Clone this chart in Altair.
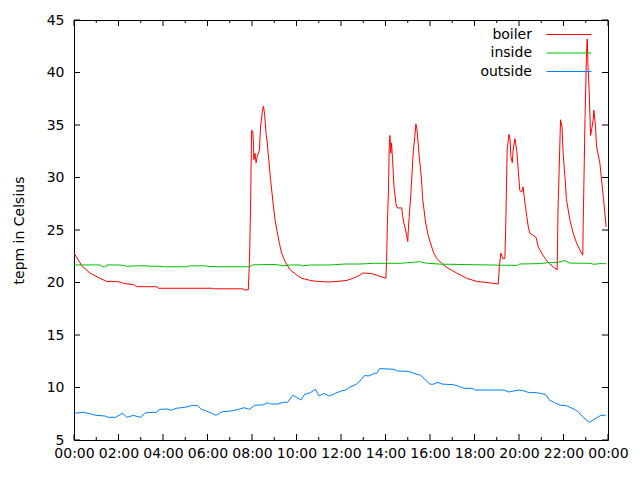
import altair as alt
import pandas as pd

# ---- data (hours since midnight, temperature in Celsius) ----
boiler_hours = [0.00, 0.35, 0.72, 1.17, 1.47, 1.92, 2.14, 2.29, 2.67, 2.83, 3.73, 3.78, 6.25, 6.29,
                7.60, 7.64, 7.84, 7.88, 7.94, 7.99, 8.03, 8.06, 8.09, 8.13, 8.18, 8.24, 8.33, 8.39,
                8.46, 8.51, 8.57, 8.63, 8.69, 8.78, 8.84, 8.90, 8.96, 9.03, 9.11, 9.23, 9.33, 9.48,
                9.71, 10.01, 10.23, 10.61, 10.91, 11.47, 11.82, 12.26, 12.54, 12.85, 12.99, 13.38,
                13.60, 14.02, 14.05, 14.08, 14.13, 14.17, 14.20, 14.23, 14.26, 14.31, 14.35, 14.38,
                14.43, 14.47, 14.53, 14.65, 14.73, 14.77, 14.83, 14.88, 14.95, 15.00, 15.02, 15.07,
                15.13, 15.19, 15.25, 15.31, 15.37, 15.42, 15.47, 15.52, 15.58, 15.63, 15.67, 15.73,
                15.79, 15.85, 15.92, 16.00, 16.15, 16.30, 16.53, 16.82, 17.20, 17.65, 18.10, 18.55,
                19.07, 19.11, 19.19, 19.26, 19.37, 19.42, 19.47, 19.55, 19.60, 19.64, 19.70, 19.74,
                19.82, 19.90, 19.97, 20.04, 20.12, 20.19, 20.27, 20.35, 20.42, 20.49, 20.64, 20.76,
                20.87, 21.02, 21.17, 21.36, 21.53, 21.72, 21.75, 21.87, 21.93, 21.99, 22.07, 22.14,
                22.29, 22.44, 22.59, 22.74, 22.86, 22.89, 22.97, 23.04, 23.07, 23.10, 23.15, 23.22,
                23.28, 23.33, 23.37, 23.43, 23.49, 23.64, 23.80, 23.91]
boiler_temp = [22.8, 21.6, 20.9, 20.4, 20.1, 20.1, 20.0, 19.9, 19.8, 19.6, 19.6, 19.45, 19.45, 19.4,
               19.4, 19.3, 19.3, 21.8, 26.9, 34.5, 34.4, 33.3, 31.7, 32.3, 31.4, 32.0, 32.6, 34.8,
               36.3, 36.8, 36.0, 34.2, 33.3, 31.0, 29.8, 28.5, 27.2, 26.0, 25.0, 23.7, 22.8, 22.0,
               21.2, 20.7, 20.4, 20.2, 20.1, 20.05, 20.1, 20.2, 20.4, 20.7, 20.9, 20.85,
               20.7, 20.4, 22.0, 25.5, 28.8, 32.9, 34.0, 32.3, 33.3, 31.8, 30.4, 29.1,
               28.2, 27.5, 27.1, 27.1, 27.1, 26.4, 25.6, 25.2, 24.5, 23.9, 24.7, 26.3,
               28.2, 30.1, 32.5, 33.9, 35.1, 34.5, 33.3, 32.0, 30.6, 29.3, 28.0, 26.9,
               26.0, 25.2, 24.5, 23.9, 22.9, 22.3, 21.8, 21.35, 20.9, 20.4, 20.1, 20.0,
               19.86, 21.5, 22.8, 22.3, 22.3, 26.6, 32.6, 34.1, 33.6, 32.0, 31.4, 32.6,
               33.7, 32.6, 30.7, 28.8, 28.6, 29.1, 27.6, 26.3, 25.3, 24.7, 24.5, 24.3,
               23.4, 22.8, 22.3, 21.8, 21.5, 21.2, 26.6, 35.5, 34.8, 32.3, 30.0, 27.9,
               26.0, 24.7, 23.8, 23.1, 22.6, 25.3, 35.5, 41.8, 43.2, 40.7, 38.5, 34.0,
               34.8, 35.5, 36.4, 35.0, 33.0, 31.4, 27.9, 25.3]

inside_hours = [0.00, 1.17, 1.30, 1.42, 1.48, 2.07, 2.38, 3.10, 3.42, 3.73, 4.09, 5.08, 5.21, 5.66,
                5.80, 6.11, 6.43, 7.91, 8.00, 8.36, 9.03, 9.39, 9.71, 10.16, 10.29, 10.61, 11.51,
                12.18, 12.85, 13.53, 14.65, 15.10, 15.55, 15.80, 16.45, 17.80, 19.15, 19.91, 20.04,
                20.94, 21.39, 21.71, 22.07, 22.29, 23.19, 23.37, 23.64, 23.91]
inside_temp = [21.67, 21.67, 21.49, 21.49, 21.67, 21.67, 21.55, 21.6, 21.55, 21.55, 21.5, 21.5, 21.6,
               21.58, 21.6, 21.52, 21.5, 21.5, 21.67, 21.7, 21.72, 21.6, 21.67, 21.67, 21.58, 21.67,
               21.67, 21.76, 21.76, 21.83, 21.83, 21.9, 21.98, 21.85, 21.75, 21.7, 21.65, 21.63,
               21.76, 21.8, 21.9, 21.92, 22.08, 21.85, 21.83, 21.73, 21.8, 21.79]

outside_hours = [0.01, 0.41, 0.82, 0.98, 1.38, 1.54, 1.86, 2.18, 2.39, 2.66, 2.98, 3.22, 3.70, 3.87,
                 4.19, 4.38, 4.59, 4.99, 5.31, 5.55, 5.71, 5.95, 6.19, 6.39, 6.67, 7.07, 7.40, 7.64,
                 7.88, 8.12, 8.52, 8.68, 8.84, 9.16, 9.40, 9.60, 9.84, 10.00, 10.20, 10.36, 10.61,
                 10.85, 11.01, 11.22, 11.49, 11.73, 12.05, 12.21, 12.37, 12.69, 12.85, 13.05, 13.25,
                 13.50, 13.61, 13.73, 14.38, 14.54, 15.02, 15.26, 15.58, 15.74, 15.98, 16.14, 16.35,
                 16.54, 17.03, 17.27, 17.51, 17.91, 18.02, 19.35, 19.51, 19.76, 20.00, 20.24, 20.40,
                 20.80, 20.96, 21.20, 21.36, 21.60, 21.84, 22.16, 22.48, 22.65, 22.89, 23.16, 23.45,
                 23.69, 23.90]
outside_temp = [7.55, 7.64, 7.45, 7.35, 7.29, 7.16, 7.16, 7.55, 7.16, 7.35, 7.16, 7.6, 7.64, 7.92,
                7.95, 7.83, 8.02, 8.11, 8.3, 8.27, 7.92, 7.76, 7.55, 7.35, 7.7, 7.76, 7.92, 8.08,
                7.92, 8.3, 8.36, 8.55, 8.43, 8.43, 8.59, 8.59, 9.26, 9.07, 8.81, 9.35, 9.5,
                9.83, 9.19, 9.44, 9.19, 9.44, 9.7, 9.76, 10.0, 10.3, 10.62, 11.13, 11.1,
                11.35, 11.35, 11.8, 11.73, 11.57, 11.54, 11.35, 11.16, 10.87, 10.33, 10.3, 10.49,
                10.33, 10.27, 10.14, 9.92, 9.92, 9.76, 9.76, 9.57, 9.67, 9.76, 9.67, 9.54,
                9.5, 9.44, 9.32, 8.81, 8.55, 8.33, 8.24, 7.92, 7.7, 7.16, 6.68, 7.06,
                7.35, 7.35]

series_names = ["boiler", "inside", "outside"]
series_colors = ["#ff0000", "#00c000", "#0080ff"]
y_ticks = [5, 10, 15, 20, 25, 30, 35, 40, 45]
major_hours = list(range(0, 25, 2))
minor_hours = list(range(1, 24, 2))

base = pd.Timestamp("2024-01-01")
frames = []
for name, hrs, vals in [("boiler", boiler_hours, boiler_temp),
                        ("inside", inside_hours, inside_temp),
                        ("outside", outside_hours, outside_temp)]:
    frames.append(pd.DataFrame({
        "time": [base + pd.Timedelta(minutes=round(h * 60)) for h in hrs],
        "temp": vals,
        "series": name,
    }))
df = pd.concat(frames, ignore_index=True)

major_df = pd.DataFrame({"time": [base + pd.Timedelta(hours=h) for h in major_hours]})
minor_df = pd.DataFrame({"time": [base + pd.Timedelta(hours=h) for h in minor_hours]})
ytick_df = pd.DataFrame({"temp": y_ticks})


def dt(h):
    return alt.DateTime(year=2024, month=1, date=1 + h // 24, hours=h % 24)


FONT = "DejaVu Sans"
W, H = 534, 420
x_scale = alt.Scale(domain=[dt(0), dt(24)])
y_scale = alt.Scale(domain=[5, 45], nice=False, zero=False)

lines = alt.Chart(df).mark_line(strokeWidth=1, interpolate="linear").encode(
    x=alt.X("time:T", scale=x_scale,
            axis=alt.Axis(orient="bottom", values=[dt(h) for h in major_hours], format="%H:%M",
                          ticks=False, domain=False, grid=False, labelFlush=False,
                          labelOverlap=False, labelPadding=6, title=None)),
    y=alt.Y("temp:Q", scale=y_scale,
            axis=alt.Axis(orient="left", values=y_ticks, ticks=False, domain=False, grid=False,
                          labelPadding=10, title="tepm in Celsius", titlePadding=20,
                          titleFontWeight="normal")),
    color=alt.Color("series:N",
                    scale=alt.Scale(domain=series_names, range=series_colors),
                    legend=alt.Legend(orient="none", legendX=488, legendY=7.5, title=None,
                                      symbolType="M-5,0H5", symbolSize=81, symbolStrokeWidth=1,
                                      labelAlign="right", labelOffset={"expr": "-44"},
                                      labelFont=FONT, labelFontSize=14, labelColor="black",
                                      rowPadding=4.5, padding=0)),
    detail="series:N",
)


def xticks(data, length, top):
    y0 = 0 if top else H
    y1 = length if top else H - length
    return alt.Chart(data).mark_rule(color="black", strokeWidth=1).encode(
        x=alt.X("time:T", scale=x_scale), y=alt.value(y0), y2=alt.value(y1))


def yticks(right):
    x0 = W if right else 0
    x1 = W - 6 if right else 6
    return alt.Chart(ytick_df).mark_rule(color="black", strokeWidth=1).encode(
        y=alt.Y("temp:Q", scale=y_scale), x=alt.value(x0), x2=alt.value(x1))


chart = alt.layer(
    lines,
    xticks(major_df, 6, False), xticks(major_df, 6, True),
    xticks(minor_df, 3, False), xticks(minor_df, 3, True),
    yticks(False), yticks(True),
).properties(
    width=W, height=H,
    autosize=alt.AutoSizeParams(type="none"),
    padding={"left": 66, "top": 12, "right": 24, "bottom": 28},
).configure_view(
    stroke="black", strokeWidth=1
).configure_axis(
    labelFont=FONT, labelFontSize=14, labelColor="black",
    titleFont=FONT, titleFontSize=14, titleColor="black",
)

chart.save("out.html", embed_options={"renderer": "svg", "actions": False})
